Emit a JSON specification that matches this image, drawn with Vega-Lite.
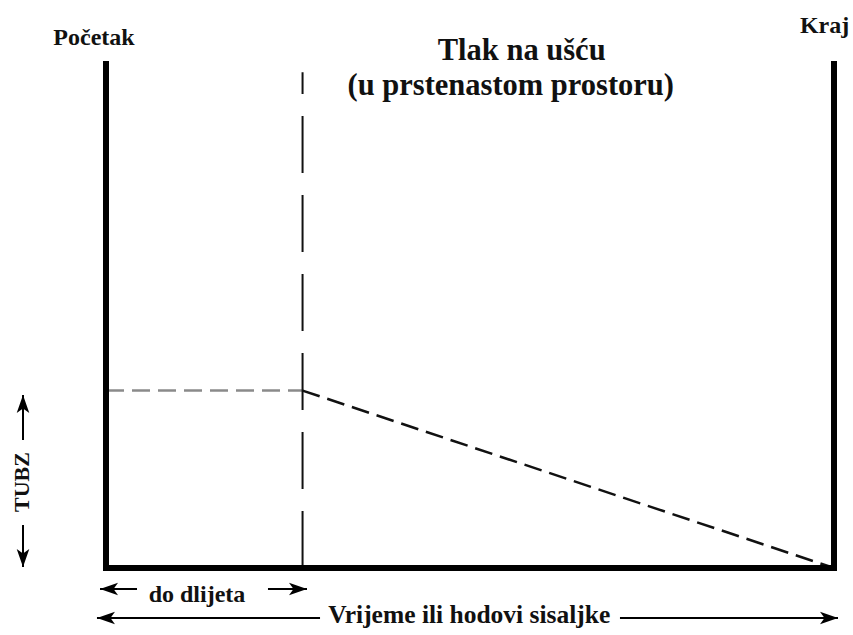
{
  "$schema": "https://vega.github.io/schema/vega-lite/v6.json",
  "width": 853,
  "height": 635,
  "padding": 0,
  "autosize": {"type": "fit", "contains": "padding"},
  "background": "white",
  "config": {"view": {"stroke": null}},
  "datasets": {
    "lines": [
      {"seg": "frame", "t": 0, "p": 100, "ord": 1},
      {"seg": "frame", "t": 0, "p": 0, "ord": 2},
      {"seg": "frame", "t": 100, "p": 0, "ord": 3},
      {"seg": "frame", "t": 100, "p": 100, "ord": 4},
      {"seg": "bit", "t": 27, "p": 0, "ord": 1},
      {"seg": "bit", "t": 27, "p": 97.8, "ord": 2},
      {"seg": "flat", "t": 0, "p": 35, "ord": 1},
      {"seg": "flat", "t": 27, "p": 35, "ord": 2},
      {"seg": "slope", "t": 27, "p": 35, "ord": 1},
      {"seg": "slope", "t": 100, "p": 0, "ord": 2}
    ],
    "arrows": [
      {"arrow": "tubz_up", "dir": "up", "t": -11.4, "p": 25.25, "t2": -11.4, "p2": 34.12},
      {"arrow": "tubz_down", "dir": "down", "t": -11.4, "p": 8.48, "t2": -11.4, "p2": 0.2},
      {"arrow": "bit_left", "dir": "left", "t": 4.26, "p": -4.14, "t2": -0.82, "p2": -4.14},
      {"arrow": "bit_right", "dir": "right", "t": 22.25, "p": -4.14, "t2": 27.61, "p2": -4.14},
      {"arrow": "time_left", "dir": "left", "t": 29.4, "p": -9.86, "t2": -1.24, "p2": -9.86},
      {"arrow": "time_right", "dir": "right", "t": 70.6, "p": -9.86, "t2": 100.55, "p2": -9.86}
    ],
    "labels": [
      {"kind": "corner", "label": "Početak", "t": -1.65, "p": 103.2},
      {"kind": "corner", "label": "Kraj", "t": 98.7, "p": 105.5},
      {"kind": "title", "label": "Tlak na ušću", "t": 57.1, "p": 100.2},
      {"kind": "title", "label": "(u prstenastom prostoru)", "t": 55.6, "p": 93.3},
      {"kind": "axis", "label": "do dlijeta", "t": 12.5, "p": -6.7},
      {"kind": "axis2", "label": "Vrijeme ili hodovi sisaljke", "t": 49.9, "p": -10.85},
      {"kind": "yaxis", "label": "TUBZ", "t": -11.54, "p": 16.96}
    ]
  },
  "encoding": {
    "x": {"field": "t", "type": "quantitative", "axis": null, "scale": {"domain": [-14.56, 102.61], "nice": false, "zero": false}},
    "y": {"field": "p", "type": "quantitative", "axis": null, "scale": {"domain": [-13.21, 112.03], "nice": false, "zero": false}}
  },
  "layer": [
    {
      "data": {"name": "lines"},
      "transform": [{"filter": "datum.seg === 'flat'"}],
      "mark": {"type": "line", "stroke": "#8a8a8a", "strokeWidth": 2.5, "strokeDash": [18, 8]},
      "encoding": {"order": {"field": "ord"}}
    },
    {
      "data": {"name": "lines"},
      "transform": [{"filter": "datum.seg === 'slope'"}],
      "mark": {"type": "line", "stroke": "#111", "strokeWidth": 2.5, "strokeDash": [18, 8]},
      "encoding": {"order": {"field": "ord"}}
    },
    {
      "data": {"name": "lines"},
      "transform": [{"filter": "datum.seg === 'bit'"}],
      "mark": {"type": "line", "stroke": "#111", "strokeWidth": 2, "strokeDash": [57, 22]},
      "encoding": {"order": {"field": "ord"}}
    },
    {
      "data": {"name": "lines"},
      "transform": [{"filter": "datum.seg === 'frame'"}],
      "mark": {"type": "line", "stroke": "#000", "strokeWidth": 6, "strokeJoin": "miter", "strokeCap": "butt"},
      "encoding": {"order": {"field": "ord"}}
    },
    {
      "data": {"name": "arrows"},
      "mark": {"type": "rule", "stroke": "#000", "strokeWidth": 2},
      "encoding": {
        "x2": {"field": "t2"},
        "y2": {"field": "p2"}
      }
    },
    {
      "data": {"name": "arrows"},
      "transform": [{"filter": "datum.dir === 'right'"}],
      "mark": {"type": "point", "filled": true, "color": "#000", "opacity": 1, "shape": "M0,0L-2,-0.7L-1.5,0L-2,0.7Z", "size": 324},
      "encoding": {
        "x": {"field": "t2", "type": "quantitative"},
        "y": {"field": "p2", "type": "quantitative"}
      }
    },
    {
      "data": {"name": "arrows"},
      "transform": [{"filter": "datum.dir === 'left'"}],
      "mark": {"type": "point", "filled": true, "color": "#000", "opacity": 1, "shape": "M0,0L2,-0.7L1.5,0L2,0.7Z", "size": 324},
      "encoding": {
        "x": {"field": "t2", "type": "quantitative"},
        "y": {"field": "p2", "type": "quantitative"}
      }
    },
    {
      "data": {"name": "arrows"},
      "transform": [{"filter": "datum.dir === 'up'"}],
      "mark": {"type": "point", "filled": true, "color": "#000", "opacity": 1, "shape": "M0,0L-0.7,2L0,1.5L0.7,2Z", "size": 324},
      "encoding": {
        "x": {"field": "t2", "type": "quantitative"},
        "y": {"field": "p2", "type": "quantitative"}
      }
    },
    {
      "data": {"name": "arrows"},
      "transform": [{"filter": "datum.dir === 'down'"}],
      "mark": {"type": "point", "filled": true, "color": "#000", "opacity": 1, "shape": "M0,0L-0.7,-2L0,-1.5L0.7,-2Z", "size": 324},
      "encoding": {
        "x": {"field": "t2", "type": "quantitative"},
        "y": {"field": "p2", "type": "quantitative"}
      }
    },
    {
      "data": {"name": "labels"},
      "transform": [{"filter": "datum.kind === 'corner' || datum.kind === 'axis'"}],
      "mark": {"type": "text", "font": "'Liberation Serif', 'Times New Roman', 'DejaVu Serif', serif", "fontWeight": "bold", "fontSize": 24, "align": "center", "baseline": "alphabetic", "color": "#111"},
      "encoding": {"text": {"field": "label"}}
    },
    {
      "data": {"name": "labels"},
      "transform": [{"filter": "datum.kind === 'axis2'"}],
      "mark": {"type": "text", "font": "'Liberation Serif', 'Times New Roman', 'DejaVu Serif', serif", "fontWeight": "bold", "fontSize": 25.5, "align": "center", "baseline": "alphabetic", "color": "#111"},
      "encoding": {"text": {"field": "label"}}
    },
    {
      "data": {"name": "labels"},
      "transform": [{"filter": "datum.kind === 'title'"}],
      "mark": {"type": "text", "font": "'Liberation Serif', 'Times New Roman', 'DejaVu Serif', serif", "fontWeight": "bold", "fontSize": 30.5, "align": "center", "baseline": "alphabetic", "color": "#111"},
      "encoding": {"text": {"field": "label"}}
    },
    {
      "data": {"name": "labels"},
      "transform": [{"filter": "datum.kind === 'yaxis'"}],
      "mark": {"type": "text", "font": "'Liberation Serif', 'Times New Roman', 'DejaVu Serif', serif", "fontWeight": "bold", "fontSize": 22, "align": "center", "baseline": "middle", "angle": 270, "color": "#111"},
      "encoding": {"text": {"field": "label"}}
    }
  ]
}
